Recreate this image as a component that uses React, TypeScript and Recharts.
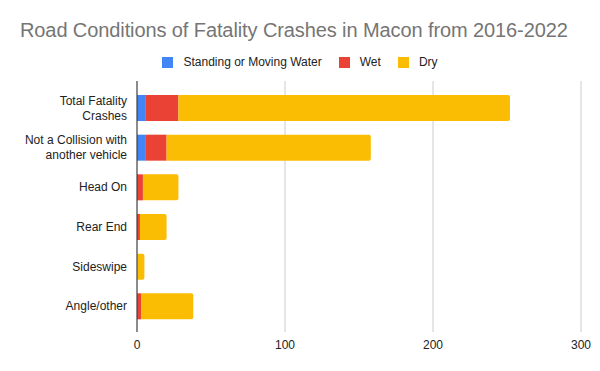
import React from "react"
import { Bar, BarChart, CartesianGrid, XAxis, YAxis } from "recharts"

const categories = [
  "Total Fatality\nCrashes",
  "Not a Collision with\nanother vehicle",
  "Head On",
  "Rear End",
  "Sideswipe",
  "Angle/other",
]
const standingWater = [6, 6, 0, 0, 0, 0]
const wet = [22, 14, 4, 2, 0, 3]
const dry = [224, 138, 24, 18, 5, 35]
const xTicks = [0, 100, 200, 300]

const series = [
  { key: "water", name: "Standing or Moving Water", color: "#4285F4", values: standingWater },
  { key: "wet", name: "Wet", color: "#EA4335", values: wet },
  { key: "dry", name: "Dry", color: "#FBBC04", values: dry },
]

const data = categories.map((name, i) => ({
  name,
  water: standingWater[i],
  wet: wet[i],
  dry: dry[i],
}))

const font = "'Liberation Sans', Arial, sans-serif"

function CategoryTick(props: any) {
  const { x, y, payload } = props
  const lines = String(payload.value).split("\n")
  const lh = 15
  const start = -((lines.length - 1) * lh) / 2
  return (
    <text x={x - 2} y={y} textAnchor="end" fill="#222222" fontSize={12} fontFamily={font}>
      {lines.map((line, i) => (
        <tspan key={i} x={x - 2} y={y + start + i * lh} dy="0.35em">
          {line}
        </tspan>
      ))}
    </text>
  )
}

export default function App() {
  return (
    <div style={{ position: "absolute", left: 0, top: 0, width: 600, height: 371, background: "#fff", fontFamily: font }}>
      <div style={{ position: "absolute", left: 20, top: 19, fontSize: 20, color: "#757575", whiteSpace: "nowrap", letterSpacing: -0.1 }}>
        Road Conditions of Fatality Crashes in Macon from 2016-2022
      </div>
      <div
        style={{
          position: "absolute",
          left: 0,
          top: 55,
          width: 600,
          display: "flex",
          justifyContent: "center",
          alignItems: "center",
          fontSize: 12,
          color: "#222",
        }}
      >
        {series.map((s, i) => (
          <div key={s.key} style={{ display: "flex", alignItems: "center", marginLeft: i === 0 ? 0 : 17 }}>
            <span style={{ width: 11, height: 11, background: s.color, display: "inline-block", marginRight: 10 }} />
            <span>{s.name}</span>
          </div>
        ))}
      </div>
      <BarChart
        width={600}
        height={371}
        data={data}
        layout="vertical"
        margin={{ top: 81, right: 19, bottom: 9, left: 0 }}
        barCategoryGap="35%"
      >
        <CartesianGrid horizontal={false} stroke="#cccccc" />
        <XAxis
          type="number"
          domain={[0, 300]}
          ticks={xTicks}
          axisLine={false}
          tickLine={false}
          height={30}
          tick={{ fill: "#222222", fontSize: 12, fontFamily: font }}
        />
        <YAxis
          type="category"
          dataKey="name"
          width={137}
          interval={0}
          padding={{ top: 7, bottom: 6 }}
          tickLine={false}
          axisLine={{ stroke: "#333333" }}
          tick={<CategoryTick />}
        />
        {series.map((s) => (
          <Bar
            key={s.key}
            dataKey={s.key}
            name={s.name}
            stackId="road"
            fill={s.color}
            barSize={26}
            radius={s.key === "dry" ? [0, 2, 2, 0] : 0}
            isAnimationActive={false}
          />
        ))}
      </BarChart>
    </div>
  )
}
